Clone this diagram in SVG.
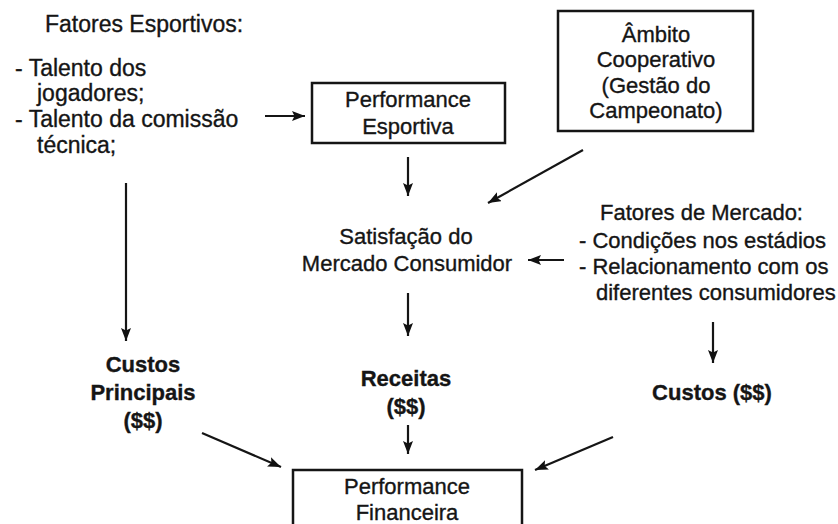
<svg xmlns="http://www.w3.org/2000/svg" width="838" height="524" viewBox="0 0 838 524">
<defs>
<marker id="ah" markerUnits="userSpaceOnUse" markerWidth="16" markerHeight="12" refX="13" refY="5" orient="auto">
<path d="M0,0 L13,5 L0,10 L2.5,5 z" fill="#111"/>
</marker>
</defs>
<style>
text{font-family:"Liberation Sans",Arial,sans-serif;font-size:22px;fill:#151515;stroke:#151515;stroke-width:0.35}
.l{font-size:23px}
.c{text-anchor:middle}
.b{font-weight:bold}
.box{fill:#fff;stroke:#151515;stroke-width:2.5}
.ln{stroke:#151515;stroke-width:2.2;fill:none;marker-end:url(#ah)}
</style>
<rect width="838" height="524" fill="#fff"/>
<g id="fatores-esportivos" class="l">
<text class="l" x="45" y="32">Fatores Esportivos:</text>
<text class="l" x="15" y="76">- Talento dos</text>
<text class="l" x="37" y="101">jogadores;</text>
<text class="l" x="15" y="127">- Talento da comissão</text>
<text class="l" x="37" y="153">técnica;</text>
</g>
<g id="performance-esportiva">
<rect class="box" x="312" y="83" width="193" height="60"/>
<text class="c" x="408" y="107">Performance</text>
<text class="c" x="408" y="134">Esportiva</text>
</g>
<g id="ambito-cooperativo">
<rect class="box" x="558" y="11" width="195" height="120"/>
<text class="c" x="656" y="42">Âmbito</text>
<text class="c" x="656" y="67">Cooperativo</text>
<text class="c" x="656" y="93">(Gestão do</text>
<text class="c" x="656" y="118">Campeonato)</text>
</g>
<g id="satisfacao">
<text class="c" x="406" y="244">Satisfação do</text>
<text class="c" x="407" y="271">Mercado Consumidor</text>
</g>
<g id="fatores-mercado">
<text x="600" y="220">Fatores de Mercado:</text>
<text x="579" y="248">- Condições nos estádios</text>
<text x="579" y="274">- Relacionamento com os</text>
<text x="596" y="300">diferentes consumidores</text>
</g>
<g id="custos-principais">
<text class="c b" x="143" y="372">Custos</text>
<text class="c b" x="143" y="400">Principais</text>
<text class="c b" x="143" y="428">($$)</text>
</g>
<g id="receitas">
<text class="c b" x="406" y="386">Receitas</text>
<text class="c b" x="406" y="414">($$)</text>
</g>
<g id="custos">
<text class="c b" x="712" y="400">Custos ($$)</text>
</g>
<g id="performance-financeira">
<rect class="box" x="293" y="470" width="229" height="64"/>
<text class="c" x="407" y="494">Performance</text>
<text class="c" x="407" y="520">Financeira</text>
</g>
<g id="connectors">
<line class="ln" x1="265" y1="116" x2="305" y2="116"/>
<line class="ln" x1="408" y1="157" x2="408" y2="196"/>
<line class="ln" x1="583" y1="150" x2="488" y2="203"/>
<line class="ln" x1="126" y1="183" x2="126" y2="341"/>
<line class="ln" x1="564" y1="260" x2="528" y2="260"/>
<line class="ln" x1="408" y1="293" x2="408" y2="336"/>
<line class="ln" x1="713" y1="322" x2="713" y2="363"/>
<line class="ln" x1="408" y1="425" x2="408" y2="454"/>
<line class="ln" x1="202" y1="433" x2="281" y2="467"/>
<line class="ln" x1="613" y1="437" x2="535" y2="470"/>
</g>
</svg>
